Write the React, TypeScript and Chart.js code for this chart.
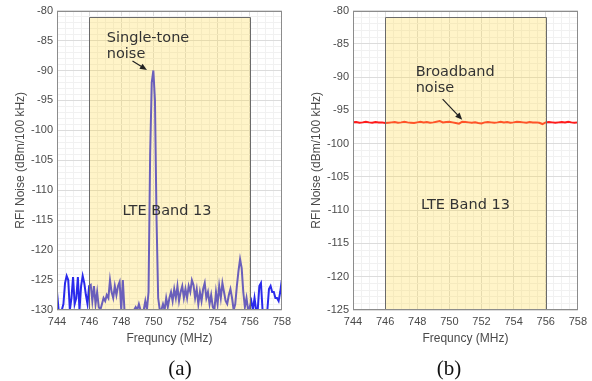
import React, { useEffect, useRef } from 'react';
import { Chart, registerables } from 'chart.js';

Chart.register(...registerables);

// ---------- data ----------
const freqStart = 744;
const freqEnd = 758;
const stepA = 0.1; // MHz between samples, panel (a)
const stepB = 0.2; // MHz between samples, panel (b)

// RFI noise (dBm/100 kHz), single-tone case, 744.0 .. 758.0 MHz
const singleToneNoise = [
  -127, -130, -130, -130, -129, -125.5, -124.3, -125, -130, -128,
  -124.5, -129, -128, -124.5, -130, -126, -124.3, -125.5, -127.5, -129,
  -126, -125.8, -128.5, -126, -129, -127, -129.5, -130, -129, -128,
  -128.5, -127.5, -128, -125, -127, -128, -126, -127.5, -126, -125.3,
  -130, -125, -130, -130, -130, -130, -130, -130, -130, -129.5,
  -130, -129, -130, -130, -130, -128.5, -130, -127, -104, -92,
  -90, -95, -115, -128, -130, -130, -129, -130, -128, -129.5,
  -128, -127, -128.5, -126.5, -128, -126, -128.5, -127, -126, -128,
  -126.5, -128, -126, -127, -125, -125.8, -128, -126.5, -129, -127,
  -128.5, -126.5, -125.5, -128, -127, -129, -127.5, -129.5, -130, -127,
  -129, -126, -128, -125.5, -127, -128.5, -129, -127.5, -126.5, -128,
  -130, -129, -126, -123.5, -121.5, -123, -127, -129.5, -128, -130,
  -129.5, -128.5, -130, -128, -130, -130, -126, -125.5, -130, -130,
  -130, -130, -126.5, -126, -127, -127, -128, -128, -128.5, -127,
  -125,
];

// RFI noise (dBm/100 kHz), broadband case, 744.0 .. 758.0 MHz
const broadbandNoise = [
  -96.8, -96.75, -96.85, -96.8, -96.7, -96.8, -96.85, -96.75, -96.8, -96.8,
  -96.9, -96.85, -96.8, -96.75, -96.85, -96.8, -96.7, -96.8, -96.85, -96.9,
  -96.8, -96.7, -96.8, -96.75, -96.85, -96.8, -96.7, -96.6, -96.8, -96.75,
  -96.7, -96.8, -96.9, -97.0, -96.7, -96.75, -96.8, -96.85, -96.8, -96.9,
  -96.95, -96.8, -96.75, -96.8, -96.85, -96.8, -96.7, -96.8, -96.75, -96.85,
  -96.8, -96.7, -96.75, -96.8, -96.85, -96.75, -96.8, -96.8, -96.85, -97.05,
  -96.8, -96.75, -96.8, -96.85, -96.8, -96.75, -96.8, -96.7, -96.8, -96.85,
  -96.8,
];

const bandEdges = [746, 756]; // LTE Band 13 (MHz)
const bandTop = -81;
const yRangeA = [-130, -80];
const yRangeB = [-125, -80];
const captions = ['(a)', '(b)'];
const bandLabel = 'LTE Band 13';
const noteA = ['Single-tone', 'noise'];
const noteB = ['Broadband', 'noise'];
const xTitle = 'Frequncy (MHz)';
const yTitle = 'RFI Noise (dBm/100 kHz)';

// ---------- helpers ----------
const toPoints = (vals: number[], step: number) =>
  vals.map((v, i) => ({ x: +(freqStart + i * step).toFixed(2), y: v }));

const isMult = (v: number, m: number) => Math.abs(v / m - Math.round(v / m)) < 1e-6;

const SANS = "'Liberation Sans', Arial, sans-serif";
const NOTE_FONT = "14.5px 'DejaVu Sans', Verdana, sans-serif";

const overlayPlugin = {
  id: 'overlay',
  afterDatasetsDraw(chart: any, _args: any, opts: any) {
    const { ctx, chartArea: a } = chart;
    const x = chart.scales.x;
    const y = chart.scales.y;
    const x0 = Math.round(x.getPixelForValue(opts.band[0])) + 0.5;
    const x1 = Math.round(x.getPixelForValue(opts.band[1])) + 0.5;
    const yt = Math.round(y.getPixelForValue(opts.bandTop)) + 0.5;
    ctx.save();
    ctx.fillStyle = 'rgba(255, 218, 72, 0.3)';
    ctx.fillRect(x0, yt, x1 - x0, a.bottom - yt);
    ctx.strokeStyle = '#6a6a6a';
    ctx.lineWidth = 1;
    ctx.beginPath();
    ctx.moveTo(x0, a.bottom);
    ctx.lineTo(x0, yt);
    ctx.lineTo(x1, yt);
    ctx.lineTo(x1, a.bottom);
    ctx.stroke();

    // axes frame
    ctx.strokeStyle = '#8c8c8c';
    ctx.strokeRect(
      Math.round(a.left) + 0.5,
      Math.round(a.top) + 0.5,
      Math.round(a.right - a.left) - 1,
      Math.round(a.bottom - a.top) - 1
    );

    // texts
    ctx.fillStyle = '#333333';
    ctx.font = NOTE_FONT;
    ctx.textBaseline = 'middle';
    ctx.textAlign = 'center';
    ctx.fillText(opts.bandLabel, x.getPixelForValue(opts.bandLabelAt[0]), y.getPixelForValue(opts.bandLabelAt[1]));
    ctx.textAlign = 'left';
    opts.note.forEach((line: string, i: number) => {
      ctx.fillText(line, x.getPixelForValue(opts.noteAt[0]), y.getPixelForValue(opts.noteAt[1]) + i * 16);
    });

    // arrow
    const ax0 = x.getPixelForValue(opts.arrow[0]);
    const ay0 = y.getPixelForValue(opts.arrow[1]);
    const ax1 = x.getPixelForValue(opts.arrow[2]);
    const ay1 = y.getPixelForValue(opts.arrow[3]);
    const ang = Math.atan2(ay1 - ay0, ax1 - ax0);
    ctx.strokeStyle = '#222';
    ctx.fillStyle = '#222';
    ctx.lineWidth = 1.2;
    ctx.beginPath();
    ctx.moveTo(ax0, ay0);
    ctx.lineTo(ax1 - 4 * Math.cos(ang), ay1 - 4 * Math.sin(ang));
    ctx.stroke();
    const hl = 7, hw = 3;
    ctx.beginPath();
    ctx.moveTo(ax1, ay1);
    ctx.lineTo(ax1 - hl * Math.cos(ang) + hw * Math.sin(ang), ay1 - hl * Math.sin(ang) - hw * Math.cos(ang));
    ctx.lineTo(ax1 - hl * Math.cos(ang) - hw * Math.sin(ang), ay1 - hl * Math.sin(ang) + hw * Math.cos(ang));
    ctx.closePath();
    ctx.fill();
    ctx.restore();
  },
};

function makeConfig(points: any[], color: string, yRange: number[], overlay: any): any {
  return {
    type: 'line',
    data: {
      datasets: [
        {
          data: points,
          borderColor: color,
          borderWidth: 2,
          pointRadius: 0,
          tension: 0,
          fill: false,
        },
      ],
    },
    options: {
      responsive: false,
      animation: false,
      layout: { padding: { top: 7, right: 13, bottom: 35, left: 0 } },
      plugins: {
        legend: { display: false },
        tooltip: { enabled: false },
        overlay,
      },
      scales: {
        x: {
          type: 'linear',
          min: freqStart,
          max: freqEnd,
          afterFit: (s: any) => { s.height = 36; },
          ticks: {
            stepSize: 0.5,
            autoSkip: false,
            maxRotation: 0,
            padding: 5,
            color: '#4a4a4a',
            font: { family: SANS, size: 11 },
            callback: (v: number) => (isMult(v, 2) ? String(v) : ''),
          },
          grid: {
            drawTicks: false,
            color: (c: any) => (c.tick && isMult(c.tick.value, 2) ? '#dcdcdc' : '#f1f1f1'),
          },
          border: { display: false },
          title: {
            display: true,
            text: xTitle,
            color: '#4a4a4a',
            font: { family: SANS, size: 12 },
            padding: { top: 0, bottom: 0 },
          },
        },
        y: {
          type: 'linear',
          min: yRange[0],
          max: yRange[1],
          afterFit: (s: any) => { s.width = 57; },
          ticks: {
            stepSize: 1,
            autoSkip: false,
            padding: 4,
            color: '#4a4a4a',
            font: { family: SANS, size: 11 },
            callback: (v: number) => (isMult(v, 5) ? String(v) : ''),
          },
          grid: {
            drawTicks: false,
            color: (c: any) => (c.tick && isMult(c.tick.value, 5) ? '#dcdcdc' : '#f1f1f1'),
          },
          border: { display: false },
          title: {
            display: true,
            text: yTitle,
            color: '#4a4a4a',
            font: { family: SANS, size: 12 },
            padding: { top: 13, bottom: 0 },
          },
        },
      },
    },
    plugins: [overlayPlugin],
  };
}

function Panel({ config }: { config: any }) {
  const ref = useRef<HTMLCanvasElement | null>(null);
  useEffect(() => {
    if (!ref.current) return;
    const chart = new Chart(ref.current, config);
    return () => chart.destroy();
  }, [config]);
  return <canvas ref={ref} width={296} height={381} style={{ display: 'block', width: 296, height: 381 }} />;
}

const configA = makeConfig(toPoints(singleToneNoise, stepA), '#2a2aec', yRangeA, {
  band: bandEdges,
  bandTop,
  bandLabel,
  bandLabelAt: [750.85, -113.5],
  note: noteA,
  noteAt: [747.1, -84.6],
  arrow: [748.7, -88.4, 749.6, -89.9],
});

const configB = makeConfig(toPoints(broadbandNoise, stepB), '#ff1a1a', yRangeB, {
  band: bandEdges,
  bandTop,
  bandLabel,
  bandLabelAt: [751.0, -109.3],
  note: noteB,
  noteAt: [747.9, -89.2],
  arrow: [749.58, -93.3, 750.8, -96.4],
});

export default function App() {
  return (
    <div style={{ position: 'absolute', left: 0, top: 0, width: 592, height: 381, background: '#fff' }}>
      <div style={{ position: 'absolute', left: 0, top: 0 }}>
        <Panel config={configA} />
      </div>
      <div style={{ position: 'absolute', left: 296, top: 0 }}>
        <Panel config={configB} />
      </div>
      {captions.map((c, i) => (
        <div
          key={c}
          style={{
            position: 'absolute',
            left: i === 0 ? 130 : 399,
            width: 100,
            top: 355,
            textAlign: 'center',
            fontFamily: "'Liberation Serif', 'Times New Roman', serif",
            fontSize: 21,
            lineHeight: '26px',
            color: '#111',
          }}
        >
          {c}
        </div>
      ))}
    </div>
  );
}
